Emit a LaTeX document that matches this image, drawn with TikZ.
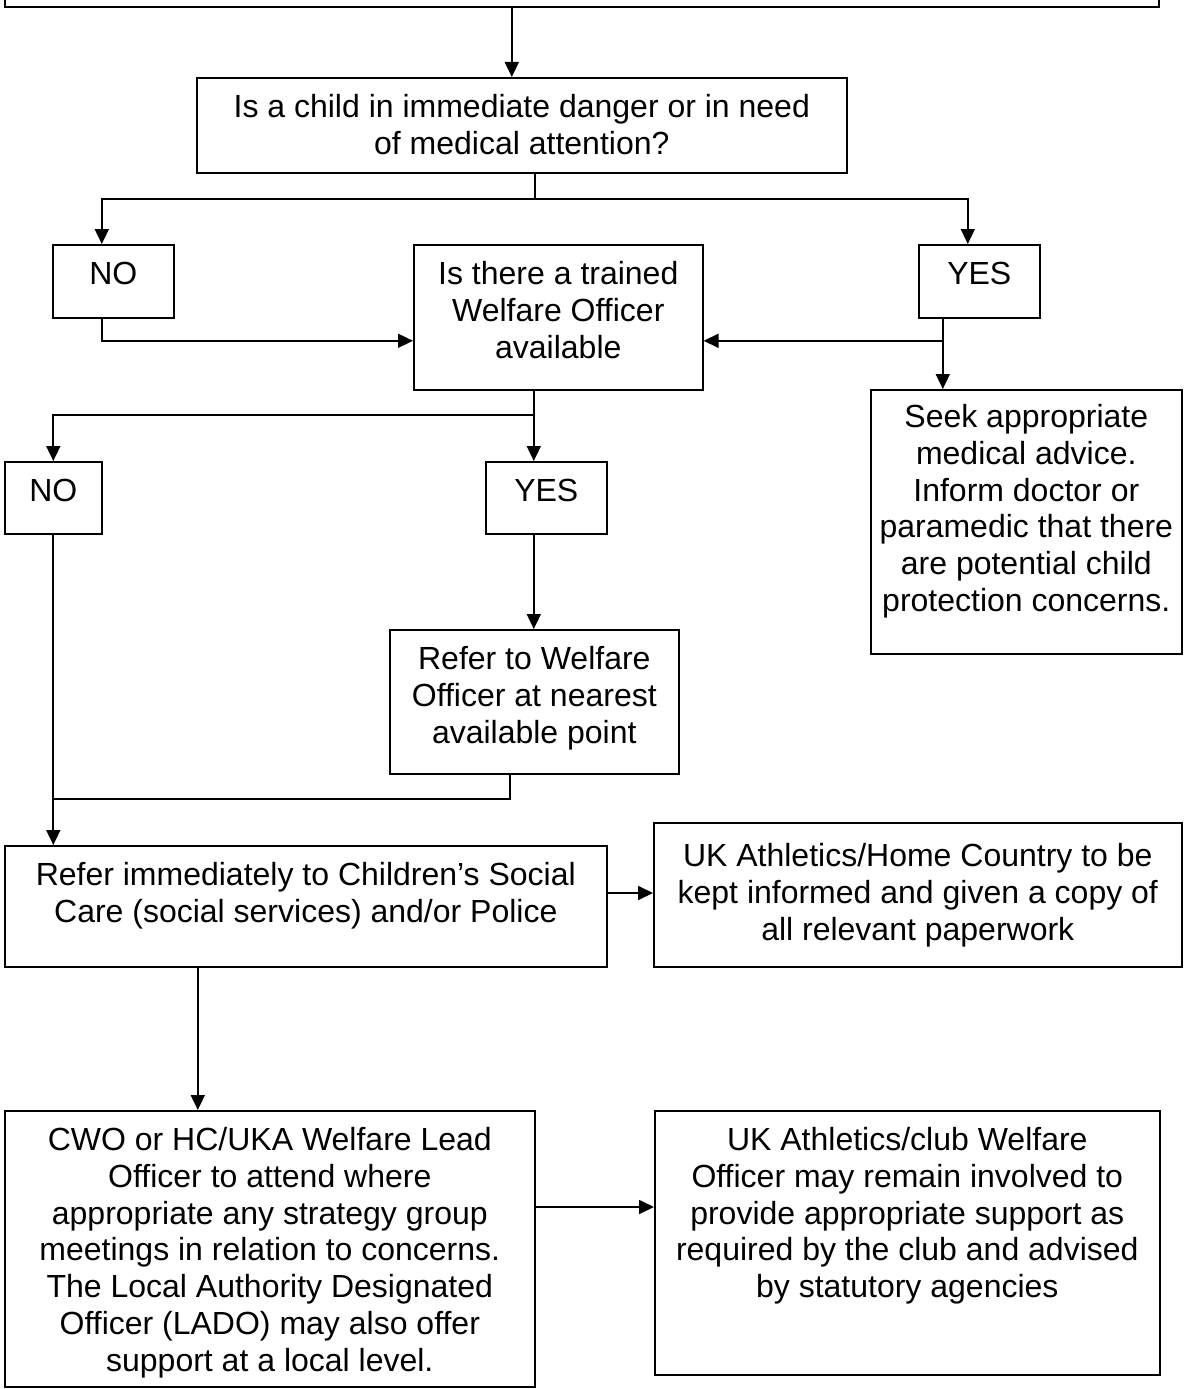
\documentclass[tikz,border=0pt]{standalone}
\usepackage{fontspec}
\setmainfont{Liberation Sans}
\usetikzlibrary{arrows.meta,calc}
\newcommand{\bxtext}[4]{\parbox[c][#2][t]{#1}{\centering\rule{0pt}{#3}#4\par}}
\tikzset{
  box/.style={draw, line width=1.6pt, inner sep=0pt, anchor=north west,
              font=\fontsize{32pt}{36.7pt}\selectfont},
  arr/.style={line width=1.8pt, -{Triangle[length=15pt,width=14pt]}},
  ln/.style={line width=1.8pt},
}
\begin{document}
\begin{tikzpicture}[x=1pt,y=-1pt]
\useasboundingbox[fill=white] (0,0) rectangle (1183,1389);

\node[draw, line width=1.6pt, inner sep=0pt, anchor=north west,
      minimum width=1154pt, minimum height=26pt] (tb) at (4,-20) {};

\node[box] (q1) at (196,77) {\bxtext{650pt}{95pt}{40pt}{Is a child in immediate danger or in need\\of medical attention?}};
\node[box] (no1) at (52,244) {\bxtext{121pt}{73pt}{40pt}{NO}};
\node[box] (q2) at (413,244) {\bxtext{289pt}{145pt}{40pt}{Is there a trained\\Welfare Officer\\available}};
\node[box] (yes1) at (918,244) {\bxtext{121pt}{73pt}{40pt}{YES}};
\node[box] (seek) at (870,389) {\bxtext{311pt}{264pt}{38pt}{Seek appropriate\\medical advice.\\Inform doctor or\\paramedic that there\\are potential child\\protection concerns.}};
\node[box] (no2) at (4,461) {\bxtext{97pt}{72pt}{40pt}{NO}};
\node[box] (yes2) at (485,461) {\bxtext{121pt}{72pt}{40pt}{YES}};
\node[box] (rwo) at (389,629) {\bxtext{289pt}{144pt}{40pt}{Refer to Welfare\\Officer at nearest\\available point}};
\node[box] (csc) at (4,845) {\bxtext{602pt}{121pt}{40pt}{Refer immediately to Children’s Social\\Care (social services) and/or Police}};
\node[box] (uk1) at (653,822) {\bxtext{528pt}{144pt}{44pt}{UK Athletics/Home Country to be\\kept informed and given a copy of\\all relevant paperwork}};
\node[box] (cwo) at (4,1110) {\bxtext{530pt}{276pt}{40pt}{CWO or HC/UKA Welfare Lead\\Officer to attend where\\appropriate any strategy group\\meetings in relation to concerns.\\The Local Authority Designated\\Officer (LADO) may also offer\\support at a local level.}};
\node[box] (ukc) at (654,1110) {\bxtext{505pt}{264pt}{40pt}{UK Athletics/club Welfare\\Officer may remain involved to\\provide appropriate support as\\required by the club and advised\\by statutory agencies}};

% top box to Q1
\coordinate (q1in) at ([xshift=-10pt]q1.north);
\draw[arr] (q1in |- tb.south) -- (q1in);

% Q1 branches
\coordinate (q1o) at ([xshift=13pt]q1.south);
\draw[ln] (q1o) -- ++(0,25) coordinate (b1);
\draw[arr] (b1) -| ([xshift=-11.5pt]no1.north);
\draw[arr] (b1) -| ([xshift=-11.5pt]yes1.north);

% NO1 to Q2
\coordinate (q2l) at ([yshift=-23.5pt]q2.west);
\draw[arr] ([xshift=-11.5pt]no1.south) |- (q2l);

% YES1 to Q2 and Seek
\coordinate (q2r) at ([yshift=-23.5pt]q2.east);
\coordinate (y1o) at ([xshift=-36.5pt]yes1.south);
\draw[ln] (y1o) -- (y1o |- q2r) coordinate (j1);
\draw[arr] (j1) -- (q2r);
\draw[arr] (j1) -- (j1 |- seek.north);

% Q2 branches
\coordinate (q2o) at ([xshift=-24.5pt]q2.south);
\draw[ln] (q2o) -- ++(0,24) coordinate (b2);
\draw[arr] (b2) -| (no2.north);
\draw[arr] (b2) -- (b2 |- yes2.north);

% YES2 to refer welfare officer
\coordinate (y2o) at ([xshift=-12.5pt]yes2.south);
\draw[arr] (y2o) -- (y2o |- rwo.north);

% refer WO merges into NO2 line
\coordinate (rwoo) at ([xshift=-24.5pt]rwo.south);
\draw[ln] (rwoo) -- ++(0,24) coordinate (m1) -- (m1 -| no2.south);
\draw[arr] (no2.south) -- (no2.south |- csc.north);

% CSC to UK1
\coordinate (c1) at ([yshift=-48pt]csc.north east);
\draw[arr] (c1) -- (c1 -| uk1.west);

% CSC to CWO
\coordinate (c2) at ([xshift=-108pt]csc.south);
\draw[arr] (c2) -- (c2 |- cwo.north);

% CWO to UKc
\coordinate (c3) at ([yshift=-97pt]cwo.north east);
\draw[arr] (c3) -- (c3 -| ukc.west);
\end{tikzpicture}
\end{document}
